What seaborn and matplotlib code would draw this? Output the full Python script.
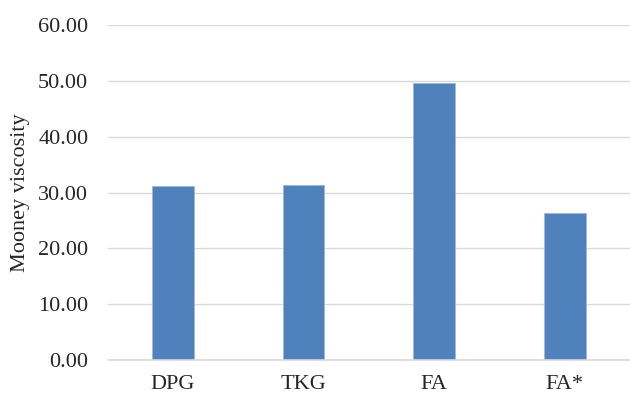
import matplotlib
matplotlib.use("Agg")
import matplotlib.pyplot as plt
import seaborn as sns
import pandas as pd

samples = ["DPG", "TKG", "FA", "FA*"]
viscosity = [31.1, 31.3, 49.6, 26.4]
y_ticks = [0, 10, 20, 30, 40, 50, 60]

df = pd.DataFrame({"sample": samples, "viscosity": viscosity})

sns.set_theme(style="white")
plt.rcParams["font.family"] = ["Liberation Serif", "DejaVu Serif"]

fig = plt.figure(figsize=(6.3, 3.94), dpi=100)
ax = fig.add_axes([0.171, 0.0863, 0.829, 0.8502])

sns.barplot(data=df, x="sample", y="viscosity", color="#4F81BD",
            saturation=1, width=0.32, edgecolor="#9DB8DE", linewidth=0.6,
            ax=ax, zorder=3)

ax.set_ylim(0, 60)
ax.set_yticks(y_ticks)
ax.set_yticklabels([f"{v:.2f}" for v in y_ticks])
ax.set_xlim(-0.5, 3.5)
ax.yaxis.grid(True, color="#D9D9D9", linewidth=1.0, zorder=0)
ax.xaxis.grid(False)
ax.axhline(0, color="#D9D9D9", linewidth=1.2, zorder=4, clip_on=False)
for s in ["top", "right", "left", "bottom"]:
    ax.spines[s].set_visible(False)
ax.tick_params(axis="both", length=0, labelsize=16, colors="#262626")
ax.tick_params(axis="y", pad=14)
ax.tick_params(axis="x", pad=11)
ax.set_xlabel("")
ax.set_ylabel("Mooney viscosity", fontsize=16, color="#262626", labelpad=6)

fig.savefig("out.png", dpi=100)
